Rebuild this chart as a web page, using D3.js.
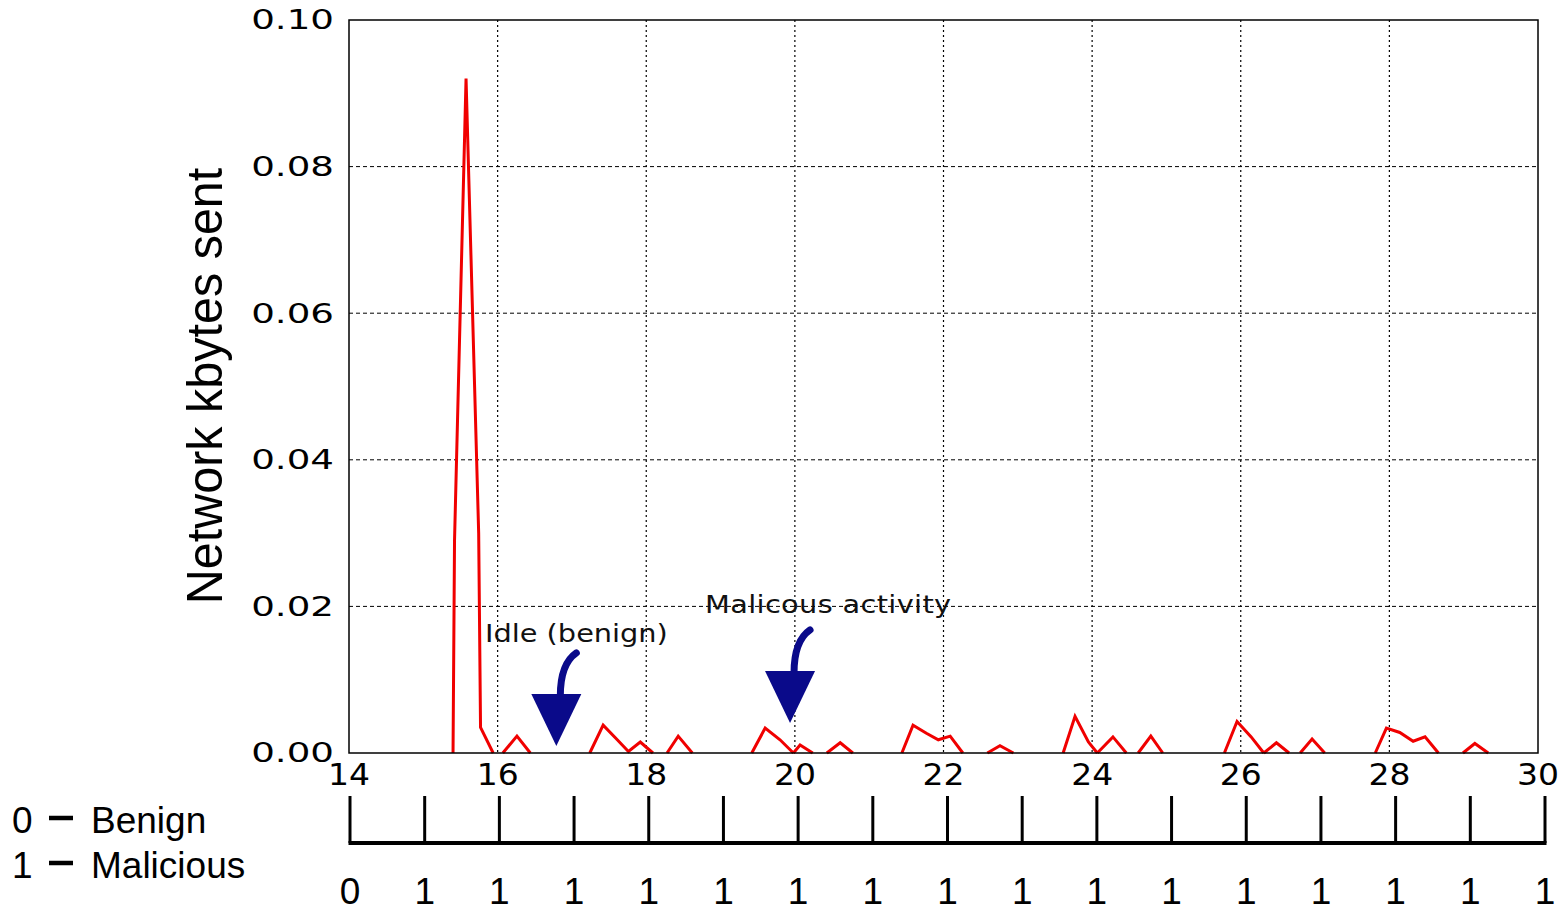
<html>
<head>
<style>
  body { margin: 0; background: #fff; }
  .grid-h { stroke: #000; stroke-width: 1; stroke-dasharray: 4,3; }
  .grid-v { stroke: #000; stroke-width: 1.2; stroke-dasharray: 2,3; }
  .tick-label { font-family: "DejaVu Sans"; fill: #000; }
  .arial { font-family: "Liberation Sans", Arial; fill: #000; }
</style>
<script src="https://cdnjs.cloudflare.com/ajax/libs/d3/7.8.5/d3.min.js"></script>
</head>
<body>
<script>
// data
var times = [15.40, 15.42, 15.575, 15.745, 15.77, 15.94, 16.07, 16.26, 16.44,
    17.24, 17.42, 17.61, 17.76, 17.92, 18.09, 18.28, 18.43, 18.62,
    19.42, 19.60, 19.80, 19.98, 20.07, 20.24, 20.43, 20.61, 20.78,
    21.44, 21.59, 21.77, 21.93, 22.09, 22.26, 22.59, 22.76, 22.94,
    23.61, 23.77, 23.95, 24.07, 24.28, 24.46, 24.62, 24.79, 24.95,
    25.78, 25.95, 26.14, 26.31, 26.48, 26.65, 26.80, 26.96, 27.13,
    27.81, 27.96, 28.14, 28.32, 28.48, 28.66, 28.99, 29.15, 29.33];
var kbytes = [0, 0.029, 0.092, 0.030, 0.0035, 0, 0, 0.0023, 0,
    0, 0.0038, 0.0018, 0.0002, 0.0015, 0, 0, 0.0023, 0,
    0, 0.0034, 0.0018, 0, 0.0011, 0, 0, 0.0014, 0,
    0, 0.0038, 0.0027, 0.0018, 0.0023, 0, 0, 0.001, 0,
    0, 0.0050, 0.0015, 0, 0.0022, 0, 0, 0.0023, 0,
    0, 0.0043, 0.0022, 0, 0.0014, 0, 0, 0.0019, 0,
    0, 0.0034, 0.0028, 0.0016, 0.0022, 0, 0, 0.0013, 0];

var xTicks = [14, 16, 18, 20, 22, 24, 26, 28, 30];
var yTicks = [0, 0.02, 0.04, 0.06, 0.08, 0.10];
var timelineTicks = [14, 15, 16, 17, 18, 19, 20, 21, 22, 23, 24, 25, 26, 27, 28, 29, 30];
var timelineLabels = ["0", "1", "1", "1", "1", "1", "1", "1", "1", "1", "1", "1", "1", "1", "1", "1", "1"];
var legendItems = [["0", "Benign"], ["1", "Malicious"]];

var notes = [{text: "Idle (benign)", x: 15.83, y: 0.0151},
             {text: "Malicous activity", x: 18.79, y: 0.0191}];
var arrowTips = [{x: 16.79, y: 0.00096}, {x: 19.935, y: 0.0041}];

var width = 1568, height = 910;
var plotLeft = 349, plotRight = 1538, plotTop = 20, plotBottom = 753;

var svg = d3.select("body").append("svg")
    .attr("width", width)
    .attr("height", height);

var x = d3.scaleLinear().domain([14, 30]).range([plotLeft, plotRight]);
var y = d3.scaleLinear().domain([0, 0.1]).range([plotBottom, plotTop]);

// grid
svg.append("g").selectAll("line")
    .data(yTicks.slice(1, -1))
    .enter().append("line")
    .attr("class", "grid-h")
    .attr("x1", plotLeft).attr("x2", plotRight)
    .attr("y1", d => y(d)).attr("y2", d => y(d));

svg.append("g").selectAll("line")
    .data(xTicks.slice(1, -1))
    .enter().append("line")
    .attr("class", "grid-v")
    .attr("x1", d => x(d)).attr("x2", d => x(d))
    .attr("y1", plotTop).attr("y2", plotBottom);

// split the series so the flat zero stretches are not drawn on the axis
var pts = times.map((t, i) => ({t: t, v: kbytes[i]}));
var segs = [], cur = [];
pts.forEach(p => {
    cur.push(p);
    if (p.v === 0 && cur.length > 1) {
        segs.push(cur);
        cur = [p];
    }
});
segs = segs.filter(s => d3.max(s, d => d.v) > 0);

var line = d3.line().x(d => x(d.t)).y(d => y(d.v));

svg.append("g").selectAll("path")
    .data(segs)
    .enter().append("path")
    .attr("d", line)
    .attr("fill", "none")
    .attr("stroke", "#f00000")
    .attr("stroke-width", 3)
    .attr("stroke-linejoin", "miter");

// frame
svg.append("rect")
    .attr("x", plotLeft).attr("y", plotTop)
    .attr("width", plotRight - plotLeft).attr("height", plotBottom - plotTop)
    .attr("fill", "none")
    .attr("stroke", "#000")
    .attr("stroke-width", 1.5);

// y tick labels (stretched like the original)
svg.append("g").selectAll("text")
    .data(yTicks)
    .enter().append("text")
    .attr("class", "tick-label")
    .attr("transform", d => "translate(334," + y(d) + ") scale(1.43,1)")
    .attr("text-anchor", "end")
    .attr("dy", "0.36em")
    .style("font-size", "26px")
    .text(d => d3.format(".2f")(d));

// x tick labels
svg.append("g").selectAll("text")
    .data(xTicks)
    .enter().append("text")
    .attr("class", "tick-label")
    .attr("transform", d => "translate(" + x(d) + ",785) scale(1.1,1)")
    .attr("text-anchor", "middle")
    .style("font-size", "30px")
    .text(d => d);

// y axis title
svg.append("text")
    .attr("class", "arial")
    .attr("transform", "translate(222,386) rotate(-90) scale(0.97,1)")
    .attr("text-anchor", "middle")
    .style("font-size", "50px")
    .text("Network kbytes sent");

// annotations
svg.append("g").selectAll("text")
    .data(notes)
    .enter().append("text")
    .attr("class", "tick-label")
    .attr("transform", d => "translate(" + x(d.x) + "," + y(d.y) + ") scale(1.2,1)")
    .style("font-size", "24px")
    .style("letter-spacing", (d, i) => i ? "0.3px" : "0px")
    .style("fill", "#111")
    .text(d => d.text);

var arrows = svg.append("g").selectAll("g")
    .data(arrowTips)
    .enter().append("g")
    .attr("transform", d => "translate(" + x(d.x) + "," + y(d.y) + ")");

arrows.append("path")
    .attr("d", "M20,-93 Q4,-82 4,-50")
    .attr("fill", "none")
    .attr("stroke", "#0a0a8a")
    .attr("stroke-width", 7)
    .attr("stroke-linecap", "round");

arrows.append("path")
    .attr("d", "M-25,-52 L25,-52 L0,0 Z")
    .attr("fill", "#0a0a8a");

// timeline below the chart
var tx = d3.scaleLinear().domain([14, 30]).range([350, 1545]);

svg.append("line")
    .attr("x1", tx(14) - 1.5).attr("x2", tx(30) + 1.5)
    .attr("y1", 843).attr("y2", 843)
    .attr("stroke", "#000")
    .attr("stroke-width", 4);

svg.append("g").selectAll("line")
    .data(timelineTicks)
    .enter().append("line")
    .attr("x1", d => tx(d)).attr("x2", d => tx(d))
    .attr("y1", 796).attr("y2", 843)
    .attr("stroke", "#000")
    .attr("stroke-width", 3);

svg.append("g").selectAll("text")
    .data(timelineLabels)
    .enter().append("text")
    .attr("class", "arial")
    .attr("x", (d, i) => tx(timelineTicks[i]))
    .attr("y", 904)
    .attr("text-anchor", "middle")
    .style("font-size", "37px")
    .text(d => d);

// legend
var legend = svg.append("g").selectAll("g")
    .data(legendItems)
    .enter().append("g")
    .attr("transform", (d, i) => "translate(0," + (833 + i * 45) + ")");

legend.append("text")
    .attr("class", "arial")
    .attr("x", 12)
    .style("font-size", "37px")
    .text(d => d[0]);

legend.append("line")
    .attr("x1", 49).attr("x2", 73)
    .attr("y1", -15).attr("y2", -15)
    .attr("stroke", "#000")
    .attr("stroke-width", 4.5);

legend.append("text")
    .attr("class", "arial")
    .attr("x", 91)
    .style("font-size", "37px")
    .text(d => d[1]);
</script>
</body>
</html>
